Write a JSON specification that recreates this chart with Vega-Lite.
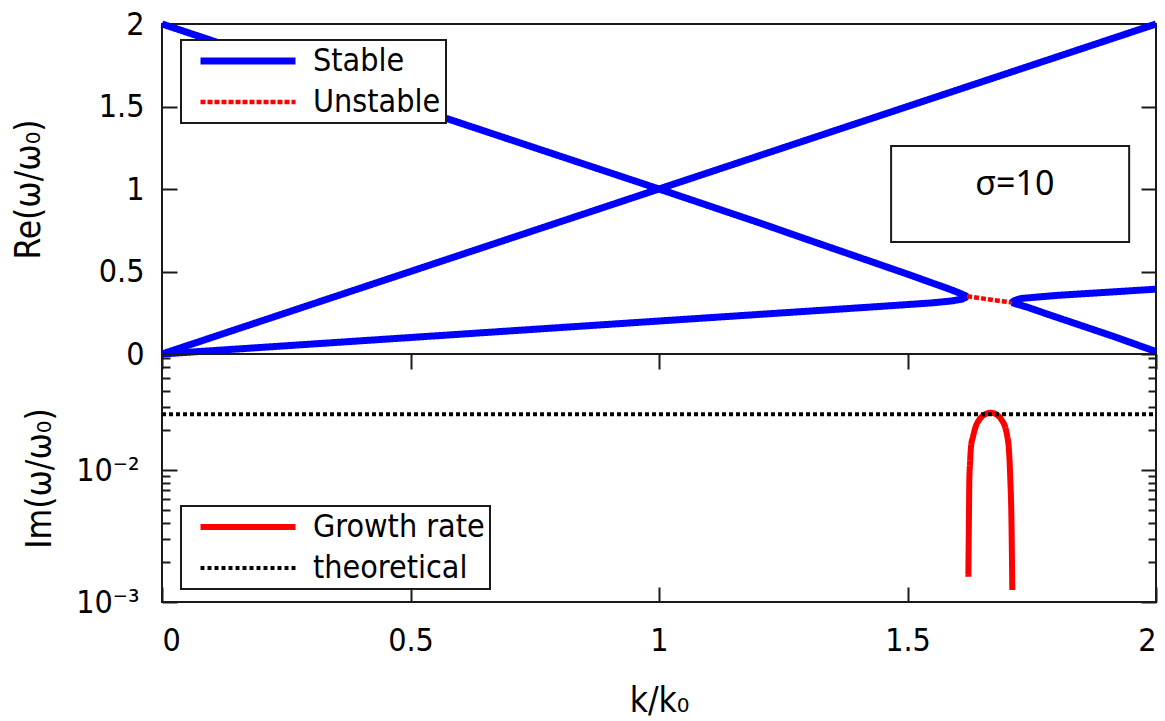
{
  "$schema": "https://vega.github.io/schema/vega-lite/v6.json",
  "background": "white",
  "padding": {"left": 10, "top": 7, "right": 0, "bottom": 0},
  "spacing": 0,
  "bounds": "flush",
  "config": {
    "font": "DejaVu Sans Condensed, DejaVu Sans",
    "view": {"stroke": "#1a1a1a", "strokeWidth": 2},
    "axis": {
      "labelFontSize": 32, "titleFontSize": 35, "labelColor": "black", "titleColor": "black",
      "titleFontWeight": "normal", "tickColor": "#1a1a1a", "tickWidth": 2, "grid": false, "domain": false,
      "labelFont": "DejaVu Sans Condensed, DejaVu Sans", "titleFont": "DejaVu Sans Condensed, DejaVu Sans"
    },
    "legend": {
      "orient": "none", "strokeColor": "#1a1a1a", "strokeWidth": 2, "fillColor": "white", "padding": 5,
      "labelFontSize": 32, "labelColor": "black", "labelFont": "DejaVu Sans Condensed, DejaVu Sans", "labelLimit": 400,
      "symbolType": "M-5,0H5", "symbolSize": 361, "symbolOffset": 46, "labelOffset": 49, "rowPadding": 9,
      "symbolFillColor": "transparent"
    }
  },
  "vconcat": [
    {
      "width": 994,
      "height": 330,
      "layer": [
        {
          "data": {"values": [
            {"k": 0, "w": 0, "seg": "A", "type": "Stable"},
            {"k": 2, "w": 2, "seg": "A", "type": "Stable"},
            {"k": 0, "w": 2, "seg": "B", "type": "Stable"},
            {"k": 0.5, "w": 1.5, "seg": "B", "type": "Stable"},
            {"k": 1, "w": 1, "seg": "B", "type": "Stable"},
            {"k": 1.2, "w": 0.797, "seg": "B", "type": "Stable"},
            {"k": 1.3, "w": 0.692, "seg": "B", "type": "Stable"},
            {"k": 1.4, "w": 0.588, "seg": "B", "type": "Stable"},
            {"k": 1.5, "w": 0.484, "seg": "B", "type": "Stable"},
            {"k": 1.55, "w": 0.43, "seg": "B", "type": "Stable"},
            {"k": 1.58, "w": 0.398, "seg": "B", "type": "Stable"},
            {"k": 1.6, "w": 0.375, "seg": "B", "type": "Stable"},
            {"k": 1.61, "w": 0.362, "seg": "B", "type": "Stable"},
            {"k": 1.62, "w": 0.348, "seg": "B", "type": "Stable"},
            {"k": 0, "w": 0, "seg": "C", "type": "Stable"},
            {"k": 0.5, "w": 0.1, "seg": "C", "type": "Stable"},
            {"k": 1, "w": 0.2, "seg": "C", "type": "Stable"},
            {"k": 1.443, "w": 0.288, "seg": "C", "type": "Stable"},
            {"k": 1.55, "w": 0.31, "seg": "C", "type": "Stable"},
            {"k": 1.59, "w": 0.322, "seg": "C", "type": "Stable"},
            {"k": 1.61, "w": 0.333, "seg": "C", "type": "Stable"},
            {"k": 1.62, "w": 0.348, "seg": "C", "type": "Stable"},
            {"k": 1.62, "w": 0.35, "seg": "D", "type": "Unstable"},
            {"k": 1.65, "w": 0.337, "seg": "D", "type": "Unstable"},
            {"k": 1.68, "w": 0.324, "seg": "D", "type": "Unstable"},
            {"k": 1.71, "w": 0.312, "seg": "D", "type": "Unstable"},
            {"k": 1.71, "w": 0.312, "seg": "E", "type": "Stable"},
            {"k": 1.716, "w": 0.325, "seg": "E", "type": "Stable"},
            {"k": 1.73, "w": 0.337, "seg": "E", "type": "Stable"},
            {"k": 1.8, "w": 0.355, "seg": "E", "type": "Stable"},
            {"k": 1.9, "w": 0.374, "seg": "E", "type": "Stable"},
            {"k": 2, "w": 0.393, "seg": "E", "type": "Stable"},
            {"k": 1.71, "w": 0.312, "seg": "F", "type": "Stable"},
            {"k": 1.72, "w": 0.302, "seg": "F", "type": "Stable"},
            {"k": 1.74, "w": 0.285, "seg": "F", "type": "Stable"},
            {"k": 1.78, "w": 0.243, "seg": "F", "type": "Stable"},
            {"k": 1.85, "w": 0.172, "seg": "F", "type": "Stable"},
            {"k": 1.912, "w": 0.109, "seg": "F", "type": "Stable"},
            {"k": 2, "w": 0.015, "seg": "F", "type": "Stable"}
          ]},
          "mark": {"type": "line", "strokeCap": "butt", "strokeJoin": "round"},
          "encoding": {
            "x": {"field": "k", "type": "quantitative", "scale": {"domain": [0, 2], "nice": false, "zero": false}, "axis": null},
            "y": {"field": "w", "type": "quantitative", "scale": {"domain": [0, 2], "nice": false},
                  "axis": {"values": [0, 0.5, 1, 1.5, 2], "format": "~g", "tickSize": -15, "labelPadding": 33, "title": "Re(ω/ω₀)", "titlePadding": 52}},
            "detail": {"field": "seg", "type": "nominal"},
            "color": {"field": "type", "type": "nominal", "scale": {"domain": ["Stable", "Unstable"], "range": ["#0000ff", "#ff0000"]}, "legend": {"title": null, "legendX": 19, "legendY": 16}},
            "strokeDash": {"field": "type", "type": "nominal", "scale": {"domain": ["Stable", "Unstable"], "range": [[1, 0], [5, 2]]}, "legend": {"title": null, "legendX": 19, "legendY": 16}},
            "strokeWidth": {"field": "type", "type": "nominal", "scale": {"domain": ["Stable", "Unstable"], "range": [7, 4.5]}, "legend": {"title": null, "legendX": 19, "legendY": 16}}
          }
        },
        {
          "data": {"values": [{"x1": 1.467, "x2": 1.946, "y1": 0.679, "y2": 1.26}]},
          "mark": {"type": "rect", "fill": "white", "stroke": "#1a1a1a", "strokeWidth": 2},
          "encoding": {
            "x": {"field": "x1", "type": "quantitative", "axis": null},
            "x2": {"field": "x2"},
            "y": {"field": "y1", "type": "quantitative", "axis": null},
            "y2": {"field": "y2"}
          }
        },
        {
          "data": {"values": [{"x": 1.716, "y": 1.024, "label": "σ=10"}]},
          "mark": {"type": "text", "font": "Noto Sans", "fontSize": 34, "color": "black", "align": "center", "baseline": "middle"},
          "encoding": {
            "x": {"field": "x", "type": "quantitative", "axis": null},
            "y": {"field": "y", "type": "quantitative", "axis": null},
            "text": {"field": "label"}
          }
        },
        {
          "data": {"values": [{"w": 0}, {"w": 2}]},
          "mark": {"type": "point", "opacity": 0},
          "encoding": {
            "y": {"field": "w", "type": "quantitative", "axis": {"orient": "right", "values": [0, 0.5, 1, 1.5, 2], "labels": false, "tickSize": -15, "title": null}}
          }
        }
      ],
      "resolve": {"axis": {"y": "independent"}}
    },
    {
      "width": 994,
      "height": 248,
      "layer": [
        {
          "data": {"values": [
            {"k": 1.6224, "g": 0.001556, "series": "Growth rate"},
            {"k": 1.6237, "g": 0.004696, "series": "Growth rate"},
            {"k": 1.6244, "g": 0.0084, "series": "Growth rate"},
            {"k": 1.6258, "g": 0.01123, "series": "Growth rate"},
            {"k": 1.6278, "g": 0.01503, "series": "Growth rate"},
            {"k": 1.6318, "g": 0.01789, "series": "Growth rate"},
            {"k": 1.6372, "g": 0.0213, "series": "Growth rate"},
            {"k": 1.6439, "g": 0.02392, "series": "Growth rate"},
            {"k": 1.6539, "g": 0.0261, "series": "Growth rate"},
            {"k": 1.6673, "g": 0.02718, "series": "Growth rate"},
            {"k": 1.6808, "g": 0.0261, "series": "Growth rate"},
            {"k": 1.6895, "g": 0.02392, "series": "Growth rate"},
            {"k": 1.6962, "g": 0.0213, "series": "Growth rate"},
            {"k": 1.7009, "g": 0.01789, "series": "Growth rate"},
            {"k": 1.7036, "g": 0.01503, "series": "Growth rate"},
            {"k": 1.7056, "g": 0.01123, "series": "Growth rate"},
            {"k": 1.7069, "g": 0.0084, "series": "Growth rate"},
            {"k": 1.7089, "g": 0.004696, "series": "Growth rate"},
            {"k": 1.7109, "g": 0.001233, "series": "Growth rate"},
            {"k": 0, "g": 0.0265, "series": "theoretical"},
            {"k": 2, "g": 0.0265, "series": "theoretical"}
          ]},
          "mark": {"type": "line", "strokeCap": "butt", "strokeJoin": "round", "interpolate": "monotone"},
          "encoding": {
            "x": {"field": "k", "type": "quantitative", "scale": {"domain": [0, 2], "nice": false, "zero": false},
                  "axis": {"values": [0, 0.5, 1, 1.5, 2], "format": "~g", "tickSize": -15, "labelPadding": 38, "title": "k/k₀", "titlePadding": 27}},
            "y": {"field": "g", "type": "quantitative", "scale": {"type": "log", "domain": [0.001, 0.0757], "nice": false},
                  "axis": {
                    "values": [0.001, 0.002, 0.003, 0.004, 0.005, 0.006, 0.007, 0.008, 0.009, 0.01, 0.02, 0.03, 0.04, 0.05, 0.06, 0.07],
                    "labelExpr": "datum.value == 0.01 ? '10⁻²' : (datum.value == 0.001 ? '10⁻³' : '')",
                    "tickSize": {"condition": {"test": "datum.value == 0.01 || datum.value == 0.001", "value": -15}, "value": -8},
                    "labelPadding": 38, "title": "Im(ω/ω₀)", "titlePadding": 18
                  }},
            "color": {"field": "series", "type": "nominal", "scale": {"domain": ["Growth rate", "theoretical"], "range": ["#ff0000", "#000000"]}, "legend": {"title": null, "legendX": 19, "legendY": 152}},
            "strokeDash": {"field": "series", "type": "nominal", "scale": {"domain": ["Growth rate", "theoretical"], "range": [[1, 0], [4, 3]]}, "legend": {"title": null, "legendX": 19, "legendY": 152}},
            "strokeWidth": {"field": "series", "type": "nominal", "scale": {"domain": ["Growth rate", "theoretical"], "range": [6, 4]}, "legend": {"title": null, "legendX": 19, "legendY": 152}}
          }
        },
        {
          "data": {"values": [{"k": 0, "g": 0.01}, {"k": 2, "g": 0.01}]},
          "mark": {"type": "point", "opacity": 0},
          "encoding": {
            "x": {"field": "k", "type": "quantitative", "axis": {"orient": "top", "values": [0, 0.5, 1, 1.5, 2], "labels": false, "tickSize": -15, "title": null}},
            "y": {"field": "g", "type": "quantitative", "axis": {
              "orient": "right", "labels": false, "title": null,
              "values": [0.001, 0.002, 0.003, 0.004, 0.005, 0.006, 0.007, 0.008, 0.009, 0.01, 0.02, 0.03, 0.04, 0.05, 0.06, 0.07],
              "tickSize": {"condition": {"test": "datum.value == 0.01 || datum.value == 0.001", "value": -15}, "value": -8}
            }}
          }
        }
      ],
      "resolve": {"axis": {"x": "independent", "y": "independent"}}
    }
  ],
  "resolve": {
    "scale": {"color": "independent", "strokeDash": "independent", "strokeWidth": "independent"},
    "legend": {"color": "independent", "strokeDash": "independent", "strokeWidth": "independent"}
  }
}
